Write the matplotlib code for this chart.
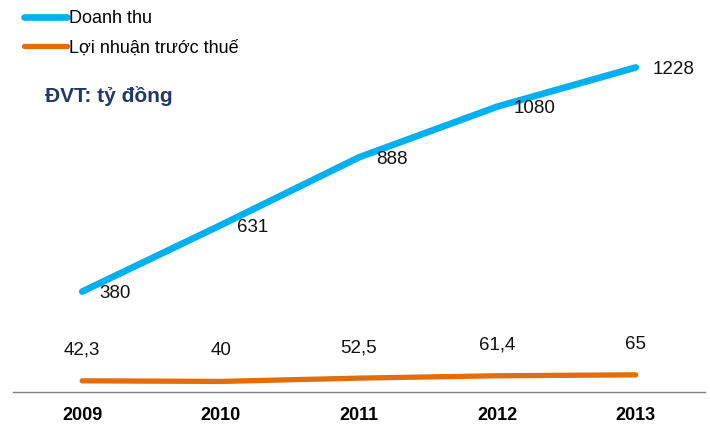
from matplotlib import pyplot as plt

years = ["2009", "2010", "2011", "2012", "2013"]
doanh_thu = [380, 631, 888, 1080, 1228]
loi_nhuan = [42.3, 40, 52.5, 61.4, 65]
loi_nhuan_labels = ["42,3", "40", "52,5", "61,4", "65"]

narrow = ["Liberation Sans Narrow", "Liberation Sans"]
blue = "#00B0F0"
orange = "#E46C0A"

fig = plt.figure(figsize=(7.1, 4.25), dpi=100)
ax = fig.add_axes([13/710, 33/425, 692/710, 370/425])

x = range(len(years))
ax.plot(x, doanh_thu, color=blue, lw=4.8, solid_capstyle="round", label="Doanh thu")
ax.plot(x, loi_nhuan, color=orange, lw=3.8, solid_capstyle="round", label="Lợi nhuận trước thuế")

for i, v in enumerate(doanh_thu):
    ax.annotate(str(v), (i, v), xytext=(12, -1.5), textcoords="offset points",
                ha="left", va="center", fontsize=13.5, family=narrow, color="#111111")
for i, v in enumerate(loi_nhuan):
    ax.annotate(loi_nhuan_labels[i], (i, v), xytext=(0, 22), textcoords="offset points",
                ha="center", va="center", fontsize=13.5, family=narrow, color="#111111")

ax.set_xlim(-0.5, 4.5)
ax.set_ylim(0, 1400)
ax.set_xticks(list(x))
ax.set_xticklabels(years, fontsize=13, fontweight="bold", family=narrow)
ax.tick_params(axis="x", length=0, pad=10.5)
ax.set_yticks([])
for side in ["left", "right", "top"]:
    ax.spines[side].set_visible(False)
ax.spines["bottom"].set_color("#808080")
ax.spines["bottom"].set_linewidth(1)

leg = ax.legend(loc="upper left", bbox_to_anchor=(24/710, 1 - 10/425),
                bbox_transform=fig.transFigure, frameon=False,
                prop={"family": narrow, "size": 13}, handlelength=2.4,
                handletextpad=0.1, labelspacing=0.7, borderpad=0, borderaxespad=0)

fig.text(45/710, 1 - 96/425, "ĐVT: tỷ đồng", fontsize=15, fontweight="bold",
         family="Liberation Sans", color="#1F3864", va="center", ha="left")

fig.savefig("out.png", dpi=100)
